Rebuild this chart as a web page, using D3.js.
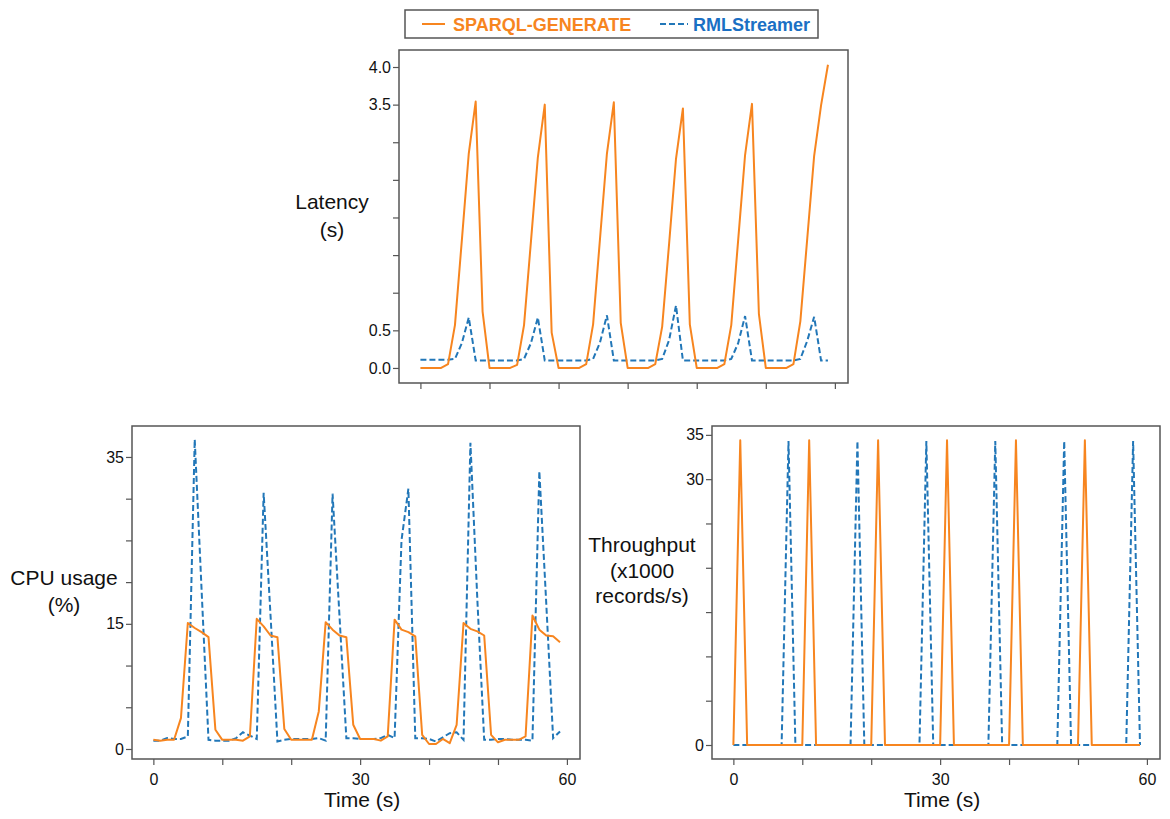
<!DOCTYPE html>
<html>
<head>
<meta charset="utf-8">
<script src="https://cdn.jsdelivr.net/npm/d3@7"></script>
<style>
  html, body { margin: 0; padding: 0; background: #fff; }
  svg { display: block; font-family: "Liberation Sans", Arial, sans-serif; }
</style>
</head>
<body>
<svg id="chart" width="1170" height="819"></svg>
<script>
// ---------------- DATA ----------------
const time = d3.range(0, 60); // seconds 0..59

const seriesNames = ["SPARQL-GENERATE", "RMLStreamer"];

const latencySparql = [
  0, 0, 0, 0, 0.05, 0.57, 1.70, 2.85, 3.54, 0.75,
  0, 0, 0, 0, 0.04, 0.57, 1.68, 2.80, 3.50, 0.47,
  0, 0, 0, 0, 0.05, 0.58, 1.72, 2.85, 3.53, 0.60,
  0, 0, 0, 0, 0.05, 0.55, 1.65, 2.78, 3.45, 0.58,
  0, 0, 0, 0, 0.05, 0.57, 1.70, 2.83, 3.51, 0.72,
  0, 0, 0, 0, 0.05, 0.62, 1.72, 2.82, 3.49, 4.03
];
const latencyRml = [
  0.11, 0.11, 0.11, 0.11, 0.11, 0.12, 0.33, 0.67, 0.10, 0.10,
  0.10, 0.10, 0.10, 0.10, 0.10, 0.12, 0.33, 0.67, 0.10, 0.10,
  0.10, 0.10, 0.10, 0.10, 0.10, 0.12, 0.34, 0.70, 0.10, 0.10,
  0.10, 0.10, 0.10, 0.10, 0.10, 0.12, 0.37, 0.83, 0.10, 0.10,
  0.10, 0.10, 0.10, 0.10, 0.10, 0.12, 0.33, 0.69, 0.10, 0.10,
  0.10, 0.10, 0.10, 0.10, 0.10, 0.12, 0.36, 0.68, 0.10, 0.10
];

const cpuSparql = [
  1.1, 1.0, 1.1, 1.1, 3.7, 15.1, 14.5, 14.0, 13.4, 2.3,
  1.1, 1.1, 1.1, 1.0, 1.5, 15.6, 14.7, 13.6, 13.4, 2.4,
  1.1, 1.1, 1.1, 1.1, 4.5, 15.2, 14.3, 13.6, 13.4, 2.9,
  1.2, 1.2, 1.2, 1.0, 1.5, 15.5, 14.3, 14.0, 13.5, 1.7,
  0.6, 0.6, 1.2, 0.7, 2.9, 15.1, 14.4, 14.1, 13.6, 1.7,
  0.8, 1.1, 1.1, 1.1, 1.5, 16.0, 14.3, 13.6, 13.5, 12.8
];
const cpuRml = [
  1.0, 1.0, 1.3, 1.2, 1.2, 1.5, 37.1, 19.0, 1.1, 1.0,
  1.0, 1.0, 1.3, 2.0, 1.6, 1.2, 30.7, 16.0, 0.9, 1.1,
  1.2, 1.2, 1.2, 1.2, 1.3, 1.0, 30.6, 16.0, 1.3, 1.3,
  1.2, 1.2, 1.2, 1.3, 1.7, 1.3, 25.0, 31.2, 1.3, 1.3,
  1.2, 0.9, 1.4, 1.9, 2.0, 1.1, 36.7, 18.0, 1.1, 1.1,
  1.2, 1.2, 1.1, 1.1, 1.1, 1.0, 33.3, 17.5, 1.3, 2.1
];

const throughputSparql = [
  0, 34.4, 0, 0, 0, 0, 0, 0, 0, 0,
  0, 34.4, 0, 0, 0, 0, 0, 0, 0, 0,
  0, 34.4, 0, 0, 0, 0, 0, 0, 0, 0,
  0, 34.4, 0, 0, 0, 0, 0, 0, 0, 0,
  0, 34.4, 0, 0, 0, 0, 0, 0, 0, 0,
  0, 34.4, 0, 0, 0, 0, 0, 0, 0, 0
];
const throughputRml = [
  0, 0, 0, 0, 0, 0, 0, 0, 34.3, 0,
  0, 0, 0, 0, 0, 0, 0, 0, 34.3, 0,
  0, 0, 0, 0, 0, 0, 0, 0, 34.3, 0,
  0, 0, 0, 0, 0, 0, 0, 0, 34.3, 0,
  0, 0, 0, 0, 0, 0, 0, 0, 34.3, 0,
  0, 0, 0, 0, 0, 0, 0, 0, 34.3, 0
];

const xTicks = [0, 10, 20, 30, 40, 50, 60];
const xTickLabels = [0, 30, 60];
const latencyTicks = [0, 0.5, 1, 1.5, 2, 2.5, 3, 3.5, 4];
const latencyTickLabels = [0, 0.5, 3.5, 4];
const cpuTicks = [0, 5, 10, 15, 20, 25, 30, 35];
const cpuTickLabels = [0, 15, 35];
const throughputTicks = [0, 5, 10, 15, 20, 25, 30, 35];
const throughputTickLabels = [0, 30, 35];

// ---------------- STYLE ----------------
const ORANGE = "#f7851f";
const BLUE = "#2277b8";
const FRAME = "#555";
const TEXT = "#111";

const svg = d3.select("#chart");

function panel(cfg) {
  const g = svg.append("g").attr("transform", `translate(${cfg.left},${cfg.top})`);
  const W = cfg.width, H = cfg.height;
  const x = d3.scaleLinear().domain([-3.1, 61.9]).range([0, W]);
  const y = d3.scaleLinear().domain(cfg.yDomain).range([H, 0]);

  // x axis
  const xa = g.append("g").attr("transform", `translate(0,${H})`)
    .call(d3.axisBottom(x).tickValues(xTicks).tickSize(6).tickPadding(9)
      .tickFormat(d => (cfg.xLabels && xTickLabels.includes(d)) ? d : ""));
  // y axis
  const ya = g.append("g")
    .call(d3.axisLeft(y).tickValues(cfg.yTicks).tickSize(6).tickPadding(2)
      .tickFormat(d => cfg.yLabels.includes(d) ? cfg.fmt(d) : ""));
  [xa, ya].forEach(a => {
    a.select(".domain").remove();
    a.selectAll(".tick line").attr("stroke", FRAME).attr("stroke-width", 1.2);
    a.selectAll(".tick text").attr("fill", TEXT).style("font-size", "16px")
      .style("font-family", '"Liberation Sans", Arial, sans-serif');
  });

  const line = d3.line().x((d, i) => x(time[i])).y(d => y(d));
  g.append("path").datum(cfg.rml).attr("d", line)
    .attr("fill", "none").attr("stroke", BLUE).attr("stroke-width", 2)
    .attr("stroke-dasharray", "6,3");
  g.append("path").datum(cfg.sparql).attr("d", line)
    .attr("fill", "none").attr("stroke", ORANGE).attr("stroke-width", 2)
    .attr("stroke-linejoin", "round");

  // frame
  g.append("rect").attr("x", 0).attr("y", 0).attr("width", W).attr("height", H)
    .attr("fill", "none").attr("stroke", FRAME).attr("stroke-width", 1.5);

  // y title
  const yt = svg.append("text").attr("text-anchor", "middle").attr("fill", TEXT)
    .style("font-size", "21px");
  cfg.yTitle.forEach((s, i) => {
    yt.append("tspan").attr("x", cfg.yTitleX).attr("y", cfg.yTitleY + i * cfg.yTitleDy).text(s);
  });
  if (cfg.xTitle) {
    svg.append("text").attr("text-anchor", "middle").attr("fill", TEXT)
      .style("font-size", "21px")
      .attr("x", cfg.left + x(30) + 2).attr("y", cfg.top + H + 48).text(cfg.xTitle);
  }
}

panel({
  left: 399, top: 50, width: 449, height: 333,
  yDomain: [-0.2, 4.226], yTicks: latencyTicks, yLabels: latencyTickLabels,
  fmt: d3.format(".1f"), xLabels: false,
  sparql: latencySparql, rml: latencyRml,
  yTitle: ["Latency", "(s)"], yTitleX: 332, yTitleY: 209, yTitleDy: 28
});

panel({
  left: 132, top: 426, width: 448, height: 333,
  yDomain: [-1.2, 38.71], yTicks: cpuTicks, yLabels: cpuTickLabels,
  fmt: d3.format("d"), xLabels: true,
  sparql: cpuSparql, rml: cpuRml,
  yTitle: ["CPU usage", "(%)"], yTitleX: 64, yTitleY: 585, yTitleDy: 27,
  xTitle: "Time (s)"
});

panel({
  left: 712, top: 426, width: 448, height: 333,
  yDomain: [-1.58, 36.0], yTicks: throughputTicks, yLabels: throughputTickLabels,
  fmt: d3.format("d"), xLabels: true,
  sparql: throughputSparql, rml: throughputRml,
  yTitle: ["Throughput", "(x1000", "records/s)"], yTitleX: 642, yTitleY: 552, yTitleDy: 25.5,
  xTitle: "Time (s)"
});

// ---------------- LEGEND ----------------
const lg = svg.append("g");
lg.append("rect").attr("x", 405).attr("y", 10).attr("width", 413).attr("height", 28)
  .attr("fill", "#fff").attr("stroke", FRAME).attr("stroke-width", 1.5);
lg.append("line").attr("x1", 422).attr("x2", 445).attr("y1", 24).attr("y2", 24)
  .attr("stroke", ORANGE).attr("stroke-width", 2);
lg.append("text").attr("x", 453).attr("y", 31).attr("fill", ORANGE)
  .style("font-size", "18px").style("font-weight", "bold").text(seriesNames[0]);
lg.append("line").attr("x1", 660).attr("x2", 688).attr("y1", 24).attr("y2", 24)
  .attr("stroke", BLUE).attr("stroke-width", 2).attr("stroke-dasharray", "6,3");
lg.append("text").attr("x", 693).attr("y", 31).attr("fill", "#1a6fc4")
  .style("font-size", "18px").style("font-weight", "bold").text(seriesNames[1]);
</script>
</body>
</html>
